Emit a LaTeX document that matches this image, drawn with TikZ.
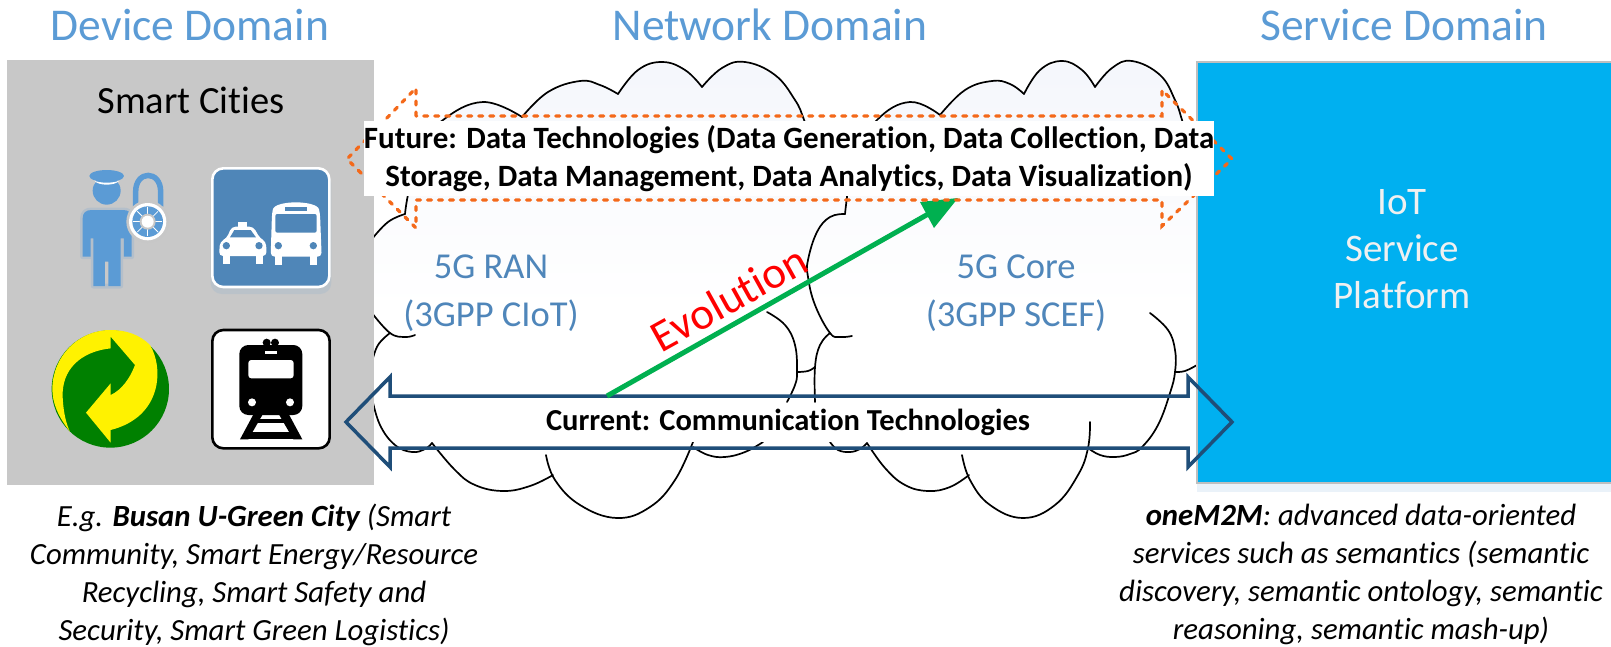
\documentclass[tikz,border=0pt]{standalone}
\usepackage{fontspec}
\setmainfont{Carlito}[Ligatures=NoCommon]
\usetikzlibrary{calc}
\definecolor{titleblue}{HTML}{5B9BD5}
\definecolor{cloudtext}{HTML}{4F86BA}
\definecolor{signblue}{HTML}{4F86B8}
\definecolor{platform}{HTML}{00B0F0}
\definecolor{graybox}{HTML}{C8C8C8}
\definecolor{orangearrow}{HTML}{F4691A}
\definecolor{bluearrow}{HTML}{1F4E79}
\definecolor{greenarrow}{HTML}{00B050}
\definecolor{cloudtop}{HTML}{F0F3FA}
\definecolor{logogreen}{HTML}{008000}
\pgfdeclareverticalshading{cloudgrad}{100bp}{color(0bp)=(white); color(48bp)=(white); color(75bp)=(cloudtop!70!white); color(100bp)=(cloudtop)}
\tikzset{
  title/.style={text=titleblue,font=\fontsize{45.5}{50}\selectfont,anchor=center},
  cloudlabel/.style={text=cloudtext,font=\fontsize{36.5}{47.5}\selectfont,align=center,anchor=center},
  caption/.style={font=\fontsize{30.8}{38}\selectfont\itshape,align=center,anchor=center},
  cloudline/.style={draw=black,line width=1.7pt,line cap=round,line join=round},
  glow/.style={draw=titleblue,opacity=.18,line width=5pt,line join=round},
  zoomed/.style={shift={(0,50)},x=0.33333pt,y=-0.33333pt},
}
\newcommand{\arcline}[1]{\draw[cloudline] plot[smooth,tension=.7] coordinates {#1};}
\begin{document}
\begin{tikzpicture}[x=1pt,y=-1pt]
\useasboundingbox (0,0) rectangle (1611,646);
\fill[white] (0,0) rectangle (1611,646);
% cloud fill
\path[shading=cloudgrad]
 (370,237) -- (388,222) -- (405,214) -- (409,190) -- (420,150) -- (443,120) -- (465,106) -- (483,102) -- (505,106) -- (522,117)
 -- (548,92) -- (580,81) -- (600,85) -- (618,94) -- (638,70) -- (662,62) -- (685,70) -- (702,87) -- (722,68) -- (745,62) -- (775,75) -- (795,100) -- (803,117) -- (810,122)
 -- (877,122) -- (892,108) -- (910,102) -- (927,106) -- (940,115) -- (965,90) -- (992,81) -- (1010,84) -- (1024,94) -- (1040,70) -- (1062,61) -- (1082,70) -- (1095,87) -- (1112,68) -- (1132,61) -- (1160,75) -- (1175,100) -- (1182,120)
 -- (1200,130) -- (1200,365) -- (1175,372) -- (1170,393) -- (1158,425) -- (1142,447) -- (1130,454) -- (1115,457) -- (1100,455) -- (1088,448) -- (1078,475) -- (1055,505) -- (1023,518) -- (990,505) -- (970,480) -- (969,475)
 -- (950,487) -- (928,491) -- (905,485) -- (885,468) -- (867,443) -- (850,452) -- (830,442) -- (763,442) -- (745,452) -- (725,457) -- (708,455) -- (693,447) -- (675,480) -- (650,507) -- (617,518) -- (580,505) -- (555,480) -- (553,475) -- (530,486) -- (503,491) -- (475,485) -- (455,470) -- (432,443) -- (412,452) -- (370,452) -- cycle;
% cloud 1 outline
\arcline{(372,239)(388,222)(405,214)}
\arcline{(405,214)(409,190)(420,150)(443,120)(483,102)(522,117)}
\arcline{(522,117)(548,92)(580,81)(600,85)(618,94)}
\arcline{(618,94)(638,70)(662,62)(685,70)(702,87)}
\arcline{(702,87)(722,68)(745,62)(775,75)(795,100)(803,117)(807,130)}
\arcline{(372,313)(390,333)(405,337)(415,335)}
\arcline{(390,333)(378,345)(372,362)}
\arcline{(372,398)(380,425)(395,445)(412,452)(425,449)(432,443)}
\arcline{(432,443)(455,470)(475,485)(503,491)(530,486)(553,475)}
\arcline{(546,455)(555,480)(580,505)(617,518)(650,507)(675,480)(693,442)}
\arcline{(693,447)(708,455)(725,457)(745,452)(763,442)}
\arcline{(787,402)(795,385)(797,372)(795,345)(785,325)(767,312)}
\arcline{(797,372)(808,371)(815,367)}
% cloud 2 outline
\arcline{(845,214)(847,197)(852,160)(877,120)(910,102)(940,115)}
\arcline{(940,115)(965,90)(992,81)(1010,84)(1024,94)}
\arcline{(1024,94)(1040,70)(1062,61)(1082,70)(1095,87)}
\arcline{(1095,87)(1112,68)(1132,61)(1160,75)(1175,100)(1182,120)(1185,130)}
\arcline{(845,214)(830,217)(817,232)(808,260)(808,277)(815,305)(830,333)(840,337)(852,336)}
\arcline{(830,333)(820,345)(815,367)(815,402)}
\arcline{(830,442)(838,450)(850,452)(860,449)(867,443)}
\arcline{(867,443)(885,468)(905,485)(928,491)(950,487)(969,475)}
\arcline{(962,455)(970,480)(990,505)(1023,518)(1055,505)(1078,475)(1088,448)(1090,422)}
\arcline{(1088,448)(1100,455)(1115,457)(1130,454)(1142,447)(1158,425)(1170,393)(1175,372)(1175,350)(1168,330)(1150,313)}
\arcline{(1175,372)(1185,371)(1197,365)}
% device domain panel
\fill[graybox] (7,60) rectangle (374,485);
% service domain panel
\fill[titleblue!25!white,opacity=.5] (1197,66) rectangle (1611,492);
\filldraw[fill=platform,draw=black!25,line width=1.5pt] (1197,62) rectangle (1615,483);
% white band behind the current label
\fill[white] (400,403) rectangle (1085,442);
% blue double arrow
\draw[bluearrow,line width=3.5pt,line join=miter,miter limit=3]
 (390,396) -- (390,377) -- (346,422) -- (390,467) -- (390,448) -- (1188,448) -- (1188,467) -- (1232,422) -- (1188,377) -- (1188,396) -- cycle;
% green arrow
\draw[greenarrow,line width=5pt] (607,396) -- (930,213);
\fill[greenarrow] (958,198) -- (920,202) -- (934,228) -- cycle;
% orange double arrow
\draw[orangearrow,line width=3.2pt,line cap=round,dash pattern=on 4pt off 7pt]
 (416,116) -- (416,88) -- (347,159) -- (416,228) -- (416,200) -- (1162,200) -- (1162,226) -- (1232,159) -- (1162,90) -- (1162,116) -- cycle;
% future label
\node[fill=white,inner sep=0pt,minimum width=850pt,minimum height=75pt,anchor=center,align=center,font=\fontsize{31}{37.5}\selectfont\bfseries] (future) at (789,158.5)
 {Future: Data Technologies (Data Generation, Data Collection, Data\\Storage, Data Management, Data Analytics, Data Visualization)};
\node[font=\fontsize{30.5}{36}\selectfont\bfseries,anchor=center] (current) at (788,422) {Current: Communication Technologies};
% titles
\node[title] (t1) at (190,25) {Device Domain};
\node[title] (t2) at (770,25) {Network Domain};
\node[title] (t3) at (1404,25) {Service Domain};
\node[font=\fontsize{38.5}{46}\selectfont,anchor=center] (smart) at (191,100) {Smart Cities};
\node[cloudlabel] (ran) at (491,293) {5G RAN\\(3GPP CIoT)};
\node[cloudlabel] (core) at (1016,293) {5G Core\\(3GPP SCEF)};
\node[text=white!94!black,font=\fontsize{39}{47}\selectfont,align=center,anchor=center] (iot) at (1402,249) {IoT\\Service\\Platform};
\node[text=red,rotate=29,font=\fontsize{45}{50}\selectfont,anchor=center] (evo) at (729,298) {Evolution};
\node[caption] (leftcap) at (254,574.5) {E.g. \textbf{Busan U-Green City} (Smart\\Community, Smart Energy/Resource\\Recycling, Smart Safety and\\Security, Smart Green Logistics)};
\node[caption] (rightcap) at (1361,574.5) {\textbf{oneM2M}: advanced data-oriented\\services such as semantics (semantic\\discovery, semantic ontology, semantic\\reasoning, semantic mash-up)};
% icons, in zoom coordinates
\begin{scope}[zoomed]
 % police
 \path[glow] (248,620) -- (248,505) .. controls (248,488) and (258,480) .. (275,480) -- (370,480) .. controls (385,480) and (395,488) .. (395,505) -- (395,620) -- (372,620) -- (372,565) -- (362,565) -- (362,708) -- (280,708) -- (280,565) -- (272,565) -- (272,620) -- cycle;
 \fill[titleblue] (248,620) -- (248,505) .. controls (248,488) and (258,480) .. (275,480) -- (370,480) .. controls (385,480) and (395,488) .. (395,505) -- (395,620) -- (372,620) -- (372,565) -- (362,565) -- (362,708) -- (325,708) -- (325,635) -- (315,635) -- (315,708) -- (280,708) -- (280,565) -- (272,565) -- (272,620) -- cycle;
 \fill[titleblue] (320,422) circle[radius=42];
 \fill[titleblue] (320,378) ellipse[x radius=52,y radius=18];
 \fill[white] (283,392) .. controls (300,400) and (340,400) .. (358,392) .. controls (345,408) and (295,408) .. (283,392) -- cycle;
 \draw[titleblue,line width=5.5pt] (407,470) -- (407,425) .. controls (407,360) and (482,360) .. (482,425) -- (482,470);
 \fill[black!22] (443,515) circle[radius=64];
 \fill[white] (443,515) circle[radius=56];
 \fill[titleblue] (443,515) circle[radius=46];
 \foreach \a in {0,45,...,315}{\draw[white,line width=.8pt] ($(443,515)+(\a:22)$) -- ($(443,515)+(\a:44)$);}
 \fill[black!22] (443,515) circle[radius=24];
 \fill[white] (443,515) circle[radius=18];
 % road sign
 \fill[titleblue,opacity=.12,rounded corners=11pt] (632,368) rectangle (994,732);
 \filldraw[fill=signblue,draw=white,line width=2.6pt,rounded corners=11pt] (637,355) rectangle (988,711);
 \fill[white,rounded corners=4pt] (812,620) -- (816,490) .. controls (825,450) and (950,450) .. (960,490) -- (965,620) -- cycle;
 \fill[white] (825,610) rectangle (845,645);
 \fill[white] (930,610) rectangle (950,645);
 \fill[signblue,rounded corners=2pt] (826,492) rectangle (950,548);
 \fill[signblue] (855,470) rectangle (920,482);
 \fill[signblue] (835,587) circle[radius=11];
 \fill[signblue] (940,587) circle[radius=11];
 \fill[white] (715,515) rectangle (742,535);
 \fill[white,rounded corners=4pt] (657,618) -- (660,575) -- (680,565) -- (695,530) -- (760,530) -- (780,565) -- (798,575) -- (800,618) -- cycle;
 \fill[white] (668,610) rectangle (690,643);
 \fill[white] (767,610) rectangle (790,643);
 \fill[signblue] (690,562) -- (703,540) -- (752,540) -- (768,562) -- cycle;
 \fill[signblue] (679,587) circle[radius=11];
 \fill[signblue] (777,587) circle[radius=11];
 % recycling mark
 \fill[logogreen] (331,1017) circle[radius=176];
 \fill[yellow] (210,1145) .. controls (175,1100) and (157,1060) .. (157,1017) .. controls (157,920) and (235,840) .. (331,840) .. controls (380,840) and (420,855) .. (450,885) .. controls (490,950) and (490,1100) .. (332,1140) -- (332,1178) -- (258,1088) -- (332,1000) -- (332,1035) .. controls (365,1020) and (390,985) .. (405,945) -- (332,860) -- (332,895) .. controls (240,905) and (185,960) .. (188,1040) .. controls (190,1090) and (200,1125) .. (210,1145) -- cycle;
 % train sign
 \filldraw[fill=white,draw=black,line width=2.6pt,rounded corners=11pt] (637,840) rectangle (989,1195);
 \fill[black,rounded corners=9pt] (718,885) rectangle (907,1095);
 \fill[black] (800,878) circle[radius=12];
 \fill[black] (825,878) circle[radius=12];
 \fill[white] (795,903) rectangle (832,912);
 \fill[white,rounded corners=3pt] (745,930) rectangle (881,985);
 \fill[white] (756,1057) circle[radius=12];
 \fill[white] (870,1057) circle[radius=12];
 \fill[black] (762,1090) -- (790,1090) -- (745,1168) -- (720,1168) -- cycle;
 \fill[black] (835,1090) -- (865,1090) -- (907,1168) -- (880,1168) -- cycle;
 \fill[black] (770,1108) rectangle (855,1120);
 \fill[black] (745,1146) rectangle (880,1166);
\end{scope}
\end{tikzpicture}
\end{document}
